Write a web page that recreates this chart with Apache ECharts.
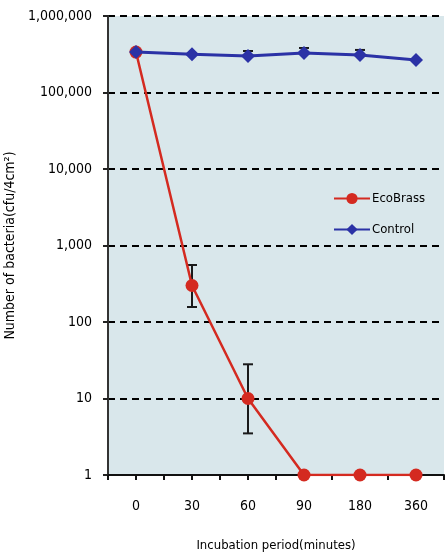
<!DOCTYPE html>
<html><head><meta charset="utf-8">
<script src="https://cdn.jsdelivr.net/npm/echarts@6/dist/echarts.min.js"></script>
<style>html,body{margin:0;padding:0;background:#fff}#c{width:445px;height:553px}</style>
</head><body><div id="c"></div>
<script>
const categories = ['0', '30', '60', '90', '180', '360'];
const ecoBrass = [338000, 300, 10, 1, 1, 1];
const control = [338000, 316000, 300000, 328000, 309000, 266000];
const ecoErrLow = [null, 157, 3.5, null, null, null];
const ecoErrHigh = [null, 556, 28, null, null, null];
const ctrlErrLow = [null, null, 300000, 328000, 309000, null];
const ctrlErrHigh = [null, null, 349000, 382000, 360000, null];
const yTicks = [1, 10, 100, 1000, 10000, 100000, 1000000];

const FONT = "'Liberation Sans Narrow','DejaVu Sans Condensed',sans-serif";
const chart = echarts.init(document.getElementById('c'));

function errData(lo, hi) {
  const out = [];
  lo.forEach((v, i) => { if (v != null) out.push([i, v, hi[i]]); });
  return out;
}
function errRender(params, api) {
  const x = api.value(0);
  const p1 = api.coord([x, api.value(1)]);
  const p2 = api.coord([x, api.value(2)]);
  const w = 5;
  const style = { stroke: '#1a1a1a', lineWidth: 2 };
  return {
    type: 'group',
    children: [
      { type: 'line', shape: { x1: p1[0], y1: p1[1], x2: p2[0], y2: p2[1] }, style },
      { type: 'line', shape: { x1: p1[0] - w, y1: p1[1], x2: p1[0] + w, y2: p1[1] }, style },
      { type: 'line', shape: { x1: p2[0] - w, y1: p2[1], x2: p2[0] + w, y2: p2[1] }, style }
    ]
  };
}

chart.setOption({
  animation: false,
  textStyle: { fontFamily: FONT },
  grid: { left: 108, right: 1, top: 16, bottom: 78, show: true, backgroundColor: '#d9e7eb', borderWidth: 0, containLabel: false, outerBoundsMode: 'none' },
  legend: {
    orient: 'vertical', left: 328, top: 187, itemWidth: 36, itemHeight: 14, itemGap: 18,
    textStyle: { fontFamily: FONT, fontSize: 13, color: '#000', padding: [0, 0, 0, -3] },
    data: ['EcoBrass', 'Control']
  },
  xAxis: {
    type: 'value', min: -0.5, max: 5.5, interval: 0.5,
    name: 'Incubation period(minutes)', nameLocation: 'middle', nameGap: 64,
    nameTextStyle: { fontFamily: FONT, fontSize: 13, color: '#000' },
    axisLine: { onZero: false, lineStyle: { color: '#111', width: 2 } },
    axisTick: { show: true, length: 5, lineStyle: { color: '#111', width: 2 } },
    axisLabel: {
      margin: 24, fontSize: 14, color: '#000', fontFamily: FONT,
      formatter: v => (Math.abs(v - Math.round(v)) < 1e-6 ? (categories[Math.round(v)] || '') : '')
    },
    splitLine: { show: false }
  },
  yAxis: {
    type: 'log', logBase: 10, min: 1, max: 1000000,
    name: 'Number of bacteria(cfu/4cm²)', nameLocation: 'middle', nameGap: 78, nameRotate: 90,
    nameTextStyle: { fontFamily: FONT, fontSize: 14, color: '#000' },
    axisLine: { show: true, onZero: false, lineStyle: { color: '#333', width: 2 } },
    axisTick: { show: true, length: 5, lineStyle: { color: '#222', width: 2 } },
    axisLabel: {
      margin: 16, fontSize: 14, color: '#000', fontFamily: FONT,
      formatter: v => (yTicks.indexOf(Math.round(v)) >= 0 ? Math.round(v).toLocaleString('en-US') : '')
    },
    splitLine: { show: true, lineStyle: { color: '#000', width: 2, type: [7, 5] } }
  },
  series: [
    { type: 'custom', name: 'ecoErr', renderItem: errRender, data: errData(ecoErrLow, ecoErrHigh), z: 1, encode: { x: 0, y: [1, 2] } },
    { type: 'custom', name: 'ctrlErr', renderItem: errRender, data: errData(ctrlErrLow, ctrlErrHigh), z: 1, encode: { x: 0, y: [1, 2] } },
    {
      name: 'EcoBrass', type: 'line', z: 3,
      data: ecoBrass.map((v, i) => [i, v]),
      symbol: 'circle', symbolSize: 13,
      lineStyle: { color: '#d42a20', width: 2.5 },
      itemStyle: { color: '#d42a20' }
    },
    {
      name: 'Control', type: 'line', z: 4,
      data: control.map((v, i) => [i, v]),
      symbol: 'diamond', symbolSize: 14,
      lineStyle: { color: '#2b32a6', width: 3 },
      itemStyle: { color: '#2b32a6' }
    }
  ]
});
</script>
</body></html>
